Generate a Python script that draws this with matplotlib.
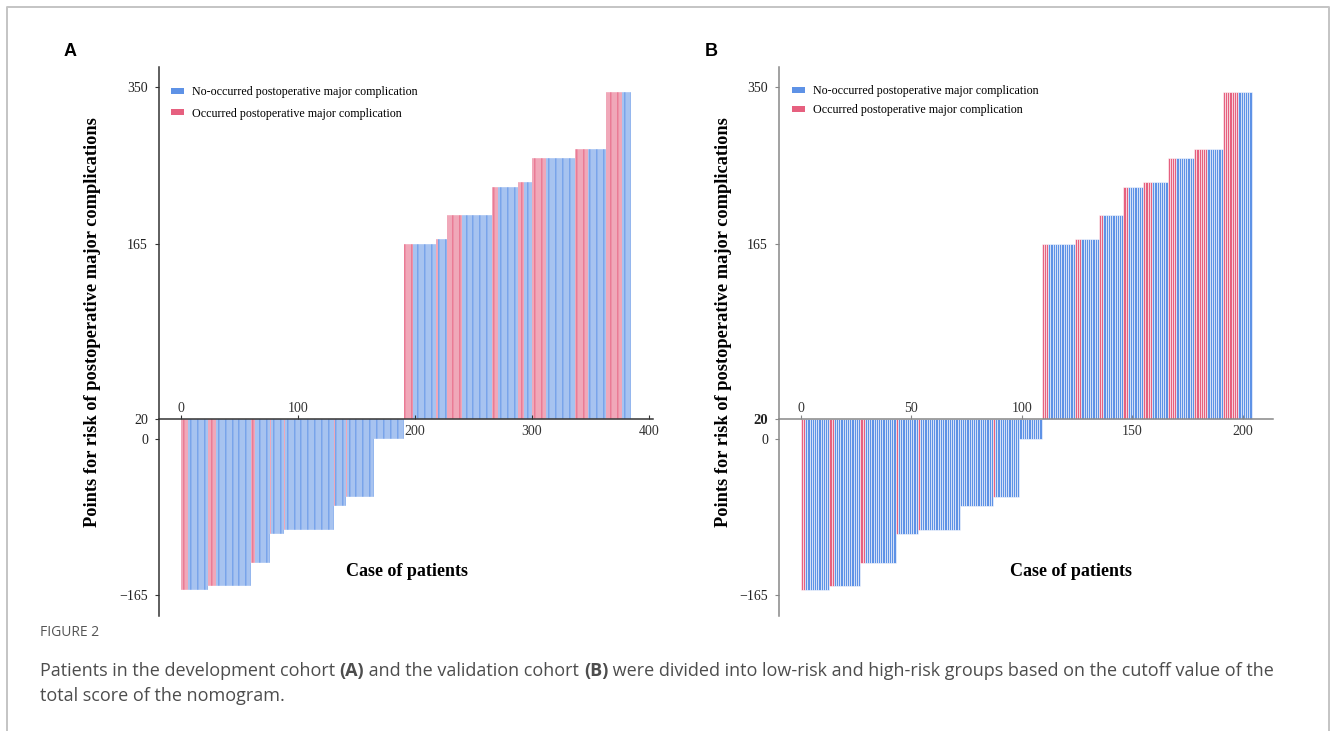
import numpy as np
import matplotlib
matplotlib.use('Agg')
import matplotlib.pyplot as plt
from matplotlib.patches import Patch
from matplotlib.lines import Line2D

# ---- data ----
# one step = group of patients sharing the same nomogram score
STEP_SCORES = [-160, -155, -131, -101, -96, -71, -61, 0,
               165, 171, 199, 232, 238, 266, 277, 344]

# development cohort (A)
A_EVENTS = [6, 7, 3, 1, 1, 1, 1, 0, 7, 2, 13, 5, 5, 12, 11, 14]
A_NO_EVENTS = [17, 30, 13, 11, 42, 9, 23, 26, 20, 7, 26, 17, 7, 25, 15, 8]

# validation cohort (B)
B_EVENTS = [2, 2, 2, 1, 1, 0, 1, 0, 3, 3, 2, 2, 4, 4, 6, 7]
B_NO_EVENTS = [11, 12, 14, 9, 18, 15, 11, 10, 12, 8, 9, 7, 7, 8, 7, 6]

CUTOFF = 20
Y_TICKS = [-165, 0, 20, 165, 350]
A_XTICKS = [0, 100, 200, 300, 400]
B_XTICKS = [0, 50, 100, 150, 200]
A_XTICKS_ABOVE = [0, 100]
B_XTICKS_ABOVE = [0, 50, 100]

LEGEND_LABELS = ['No-occurred postoperative major complication',
                 'Occurred postoperative major complication']
YLABEL = 'Points for risk of postoperative major complications'
XLABEL = 'Case of patients'

BLUE = '#5e92e6'
RED = '#e6607f'

W, H = 1330, 731

# the source figure spaces its labelled y values unevenly; rebuild that
# with a piecewise-linear scale through the labelled values
_TICK_SCREEN = [0, 156.3, 175.7, 351.0, 508.3]
_lo = (_TICK_SCREEN[2] - _TICK_SCREEN[0]) / (Y_TICKS[2] - Y_TICKS[0])
_hi = (_TICK_SCREEN[4] - _TICK_SCREEN[3]) / (Y_TICKS[4] - Y_TICKS[3])
_XS = np.array([-1e4] + Y_TICKS + [1e4], dtype=float)
_YS = np.array([_TICK_SCREEN[0] - (1e4 + Y_TICKS[0]) * _lo] + _TICK_SCREEN +
               [_TICK_SCREEN[4] + (1e4 - Y_TICKS[4]) * _hi])


def fwd(v):
    return np.interp(v, _XS, _YS)


def inv(p):
    return np.interp(p, _YS, _XS)


def expand(scores, events, no_events):
    vals, flags = [], []
    for s, e, n in zip(scores, events, no_events):
        vals += [s] * (e + n)
        flags += [1] * e + [0] * n
    return np.array(vals, dtype=float), np.array(flags)


def fx(px):
    return px / W


def fy(py):
    return 1 - py / H


plt.rcParams['font.family'] = ['Liberation Serif', 'DejaVu Serif']
fig = plt.figure(figsize=(W / 100, H / 100), dpi=100)


def draw_panel(rect, events, no_events, xlim, xticks, above, spine_col,
               edge_lw, bold20, leg_anchor, leg_space):
    ax = fig.add_axes(rect)
    vals, flags = expand(STEP_SCORES, events, no_events)
    x = np.arange(len(vals))
    cols = [RED if f else BLUE for f in flags]
    ax.bar(x, vals - CUTOFF, bottom=CUTOFF, width=1, align='edge',
           color=cols, edgecolor='white', linewidth=edge_lw)

    ax.set_yscale('function', functions=(fwd, inv))
    ax.set_ylim(-187, 373.5)
    ax.set_xlim(*xlim)
    ax.spines['top'].set_visible(False)
    ax.spines['right'].set_visible(False)
    ax.spines['bottom'].set_position(('data', CUTOFF))
    for sp in ('left', 'bottom'):
        ax.spines[sp].set_color(spine_col)
        ax.spines[sp].set_linewidth(1.1)

    ax.set_yticks(Y_TICKS)
    ax.set_yticklabels([str(t).replace('-', '\u2212') for t in Y_TICKS])
    ax.minorticks_off()
    ax.tick_params(axis='y', length=3, width=0.8, color=spine_col,
                   labelsize=10, labelcolor='#222222', pad=5)
    if bold20:
        for lab in ax.get_yticklabels():
            if lab.get_text() == '20':
                lab.set_fontweight('bold')
                lab.set_fontsize(10.5)

    ax.set_xticks(xticks)
    ax.set_xticklabels(['' if t in above else str(t) for t in xticks])
    ax.tick_params(axis='x', length=3, width=0.8, color=spine_col,
                   direction='in', labelsize=10, labelcolor='#333333', pad=4)
    for t in above:
        ax.annotate(str(t), (t, CUTOFF), xytext=(0, 3),
                    textcoords='offset points', ha='center', va='bottom',
                    fontsize=10, color='#333333')

    handles = [Patch(facecolor=BLUE), Patch(facecolor=RED)]
    ax.legend(handles, LEGEND_LABELS, loc='upper left',
              bbox_to_anchor=leg_anchor, bbox_transform=fig.transFigure,
              frameon=False, fontsize=8.65, borderpad=0, borderaxespad=0,
              handlelength=1.1, handleheight=0.35, handletextpad=0.7,
              labelspacing=leg_space)
    return ax


# panel A
draw_panel([fx(159), fy(616), fx(653 - 159), (616 - 66.7) / H],
           A_EVENTS, A_NO_EVENTS, (-18.8, 403.4), A_XTICKS, A_XTICKS_ABOVE,
           '#333333', 0.25, False, (fx(170.5), fy(86)), 0.8)
# panel B
draw_panel([fx(779), fy(616), fx(1273 - 779), (616 - 66.7) / H],
           B_EVENTS, B_NO_EVENTS, (-9.8, 213.7), B_XTICKS, B_XTICKS_ABOVE,
           '#888888', 0.4, True, (fx(791.5), fy(85)), 0.6)

for cx in (93, 723):
    fig.text(fx(cx), fy(322), YLABEL, rotation=90, ha='center', va='center',
             fontsize=13.2, fontweight='bold')
fig.text(fx(407), fy(572), XLABEL, ha='center', va='center',
         fontsize=13, fontweight='bold')
fig.text(fx(1071), fy(572), XLABEL, ha='center', va='center',
         fontsize=13, fontweight='bold')

fig.text(fx(70), fy(52), 'A', ha='center', va='center', fontsize=13,
         fontweight='bold', family=['Liberation Sans', 'DejaVu Sans'])
fig.text(fx(711), fy(52), 'B', ha='center', va='center', fontsize=13,
         fontweight='bold', family=['Liberation Sans', 'DejaVu Sans'])

# caption
cap_font = ['Open Sans', 'DejaVu Sans']
fig.text(fx(40), fy(632), 'FIGURE 2', ha='left', va='center', fontsize=10,
         color='#555555', family=cap_font)

renderer = fig.canvas.get_renderer()


def text_row(x0, y0, parts, size):
    x = x0
    for s, bold in parts:
        t = fig.text(fx(x), fy(y0), s, ha='left', va='center', fontsize=size,
                     color='#4d4d4d', family=cap_font,
                     fontweight='bold' if bold else 'normal')
        x += t.get_window_extent(renderer).width


line1 = [('Patients in the development cohort ', False), ('(A)', True),
         (' and the validation cohort ', False), ('(B)', True),
         (' were divided into low-risk and high-risk groups based on the '
          'cutoff value of the', False)]
text_row(40, 671, line1, 13)
text_row(40, 696, [('total score of the nomogram.', False)], 13)

# page frame
frame = Line2D([fx(7), fx(7), fx(1328.5), fx(1328.5)],
               [0, fy(7), fy(7), 0], transform=fig.transFigure,
               color='#c4c4c4', linewidth=1.4)
fig.add_artist(frame)

fig.savefig('out.png', dpi=100)
